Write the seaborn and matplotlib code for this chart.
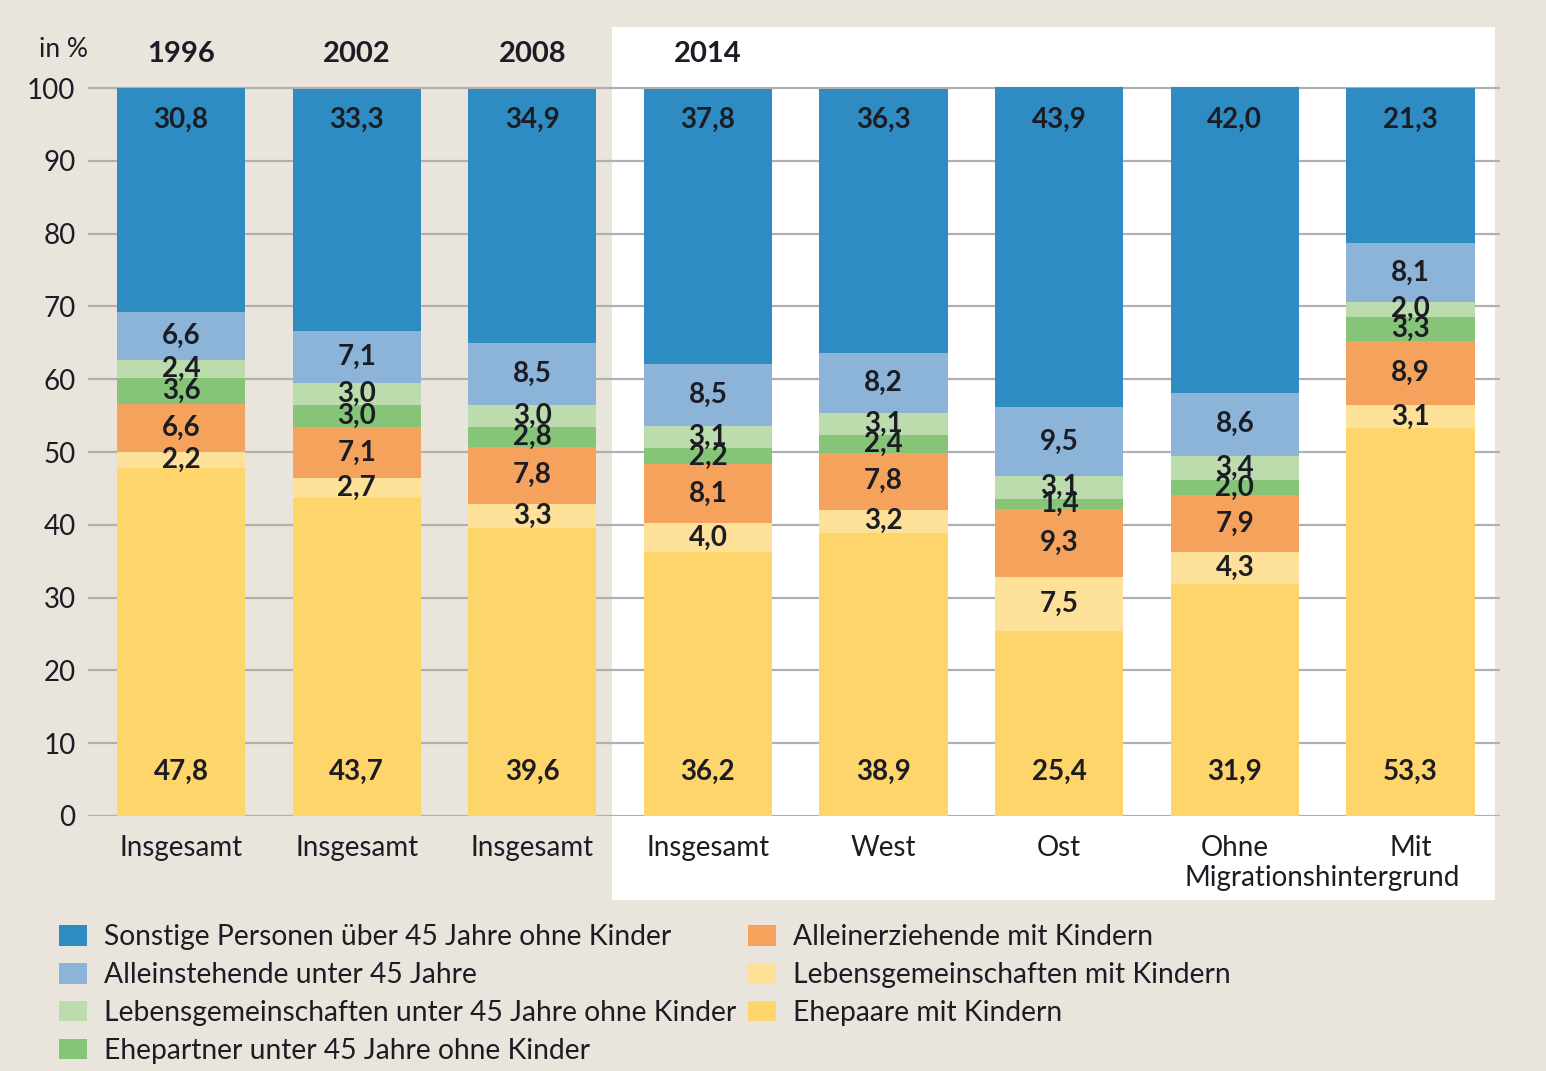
import matplotlib
matplotlib.use("Agg")
import matplotlib.pyplot as plt
from matplotlib.patches import Patch, Rectangle
import pandas as pd
import seaborn as sns

# groups (x positions) and their axis labels
groups = ["1996", "2002", "2008", "2014", "West", "Ost", "Ohne", "Mit"]
tick_labels = ["Insgesamt", "Insgesamt", "Insgesamt", "Insgesamt", "West", "Ost", "Ohne", "Mit"]
year_labels = ["1996", "2002", "2008", "2014"]

# segments, bottom to top
categories = [
    "Ehepaare mit Kindern",
    "Lebensgemeinschaften mit Kindern",
    "Alleinerziehende mit Kindern",
    "Ehepartner unter 45 Jahre ohne Kinder",
    "Lebensgemeinschaften unter 45 Jahre ohne Kinder",
    "Alleinstehende unter 45 Jahre",
    "Sonstige Personen über 45 Jahre ohne Kinder",
]
ehepaare = [47.8, 43.7, 39.6, 36.2, 38.9, 25.4, 31.9, 53.3]
lg_kinder = [2.2, 2.7, 3.3, 4.0, 3.2, 7.5, 4.3, 3.1]
alleinerz = [6.6, 7.1, 7.8, 8.1, 7.8, 9.3, 7.9, 8.9]
ehepartner = [3.6, 3.0, 2.8, 2.2, 2.4, 1.4, 2.0, 3.3]
lg_u45 = [2.4, 3.0, 3.0, 3.1, 3.1, 3.1, 3.4, 2.0]
alleinst = [6.6, 7.1, 8.5, 8.5, 8.2, 9.5, 8.6, 8.1]
sonstige = [30.8, 33.3, 34.9, 37.8, 36.3, 43.9, 42.0, 21.3]

colors = ["#FDD56A", "#FDE198", "#F5A35C", "#86C577", "#BCDCAE", "#8BB4D8", "#2E8CC2"]
BG = "#EAE5DC"
TXT = "#1c1c24"

series = [ehepaare, lg_kinder, alleinerz, ehepartner, lg_u45, alleinst, sonstige]

rows = []
for cat, vals in zip(categories, series):
    for g, v in zip(groups, vals):
        rows.append({"group": g, "category": cat, "value": v})
df = pd.DataFrame(rows)
df["category"] = pd.Categorical(df["category"], categories=categories, ordered=True)
df = df.sort_values(["group", "category"])
df["top"] = df.groupby("group")["value"].cumsum()
df["bottom"] = df["top"] - df["value"]

plt.rcParams["font.family"] = ["Lato", "DejaVu Sans"]
fig = plt.figure(figsize=(15.46, 10.71), dpi=100, facecolor=BG)

# white panel behind the 2014 groups
fig.patches.append(Rectangle((612 / 1546, (1071 - 900) / 1071), 883 / 1546, 873 / 1071,
                             transform=fig.transFigure, facecolor="white", edgecolor="none", zorder=-5))

ax = fig.add_axes([88 / 1546, (1071 - 816) / 1071, (1500 - 88) / 1546, (816 - 84.4) / 1071])
ax.set_zorder(2)
ax.set_facecolor("none")

# layered cumulative bars, top segment first
for cat, col in reversed(list(zip(categories, colors))):
    sub = df[df["category"] == cat]
    sns.barplot(data=sub, x="group", y="top", order=groups, color=col, saturation=1,
                width=0.73, linewidth=0, ax=ax, zorder=3)

ax.set_xlim(-0.53, 7.51)
ax.set_ylim(0, 100.5)
ax.set_yticks(range(0, 101, 10))
ax.yaxis.grid(True, color="#B0B0B0", linewidth=1.6, zorder=0)
ax.set_axisbelow(True)
for s in ax.spines.values():
    s.set_visible(False)
ax.tick_params(axis="both", length=0, labelsize=20, colors=TXT)
ax.tick_params(axis="y", pad=9)
ax.tick_params(axis="x", pad=14)
ax.set_xticks(range(len(groups)))
ax.set_xticklabels(tick_labels)
ax.set_xlabel("")
ax.set_ylabel("")
ax.text(6.5, -8.5, "Migrationshintergrund", ha="center", va="center", fontsize=20,
        color=TXT, clip_on=False)

# value labels
for _, r in df.iterrows():
    x = groups.index(r["group"])
    if r["category"] == categories[-1]:
        y = 95.6
    elif r["category"] == categories[0]:
        y = 6.0
    else:
        y = (r["bottom"] + r["top"]) / 2
    ax.text(x, y, f"{r['value']:.1f}".replace(".", ","), ha="center", va="center",
            fontsize=20, fontweight="bold", color=TXT, zorder=5)

# header labels
for i, yr in enumerate(year_labels):
    ax.text(i, 104.7, yr, ha="center", va="center", fontsize=21, fontweight="bold",
            color=TXT, clip_on=False)
ax.text(-0.53, 105.3, "in %", ha="right", va="center", fontsize=19, color=TXT, clip_on=False)

handles = [Patch(facecolor=c, edgecolor="none") for c in colors]
order = [6, 5, 4, 3, 2, 1, 0]
fig.legend([handles[i] for i in order], [categories[i] for i in order],
           loc="upper left", bbox_to_anchor=(48 / 1546, 1 - 913 / 1071), ncol=2,
           frameon=False, fontsize=20.3, handlelength=1.0, handleheight=0.75,
           handletextpad=0.6, columnspacing=0.4, labelspacing=0.42, borderaxespad=0,
           labelcolor=TXT)

fig.savefig("out.png", dpi=100, facecolor=BG)
